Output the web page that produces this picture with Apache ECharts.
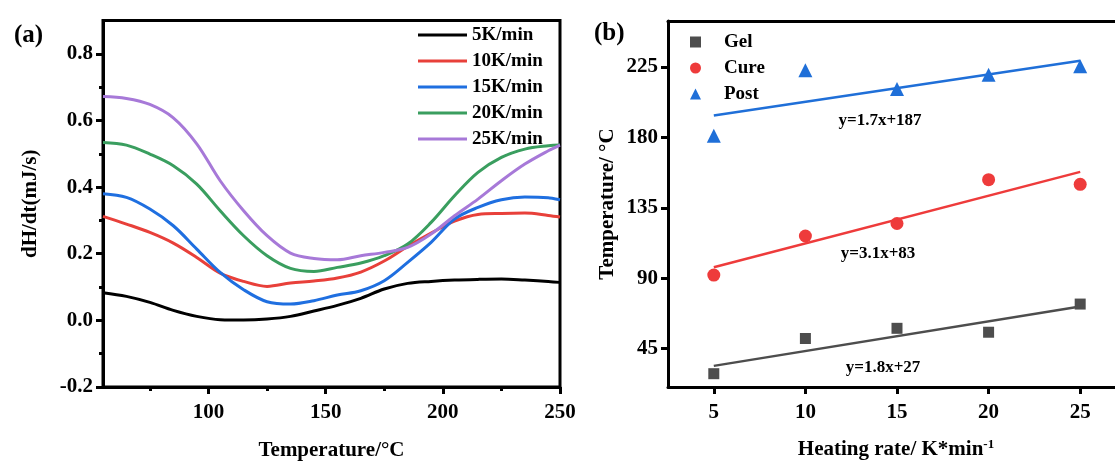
<!DOCTYPE html>
<html>
<head>
<meta charset="utf-8">
<title>DSC curves / heating rate</title>
<style>
  html, body { margin: 0; padding: 0; background: #fff; }
  #container { width: 1115px; height: 462px; }
</style>
</head>
<body>
<div id="container"></div>
<script src="https://cdn.jsdelivr.net/npm/echarts@6.0.0/dist/echarts.min.js"></script>
<script type="text/javascript">

    // (a) heat flow curves
    var temps = [55, 65, 75, 85, 95, 105, 115, 125, 135, 145, 155, 165, 175, 185, 195, 205, 215, 225, 235, 245, 250];
    var k5  = [0.083, 0.072, 0.054, 0.030, 0.012, 0.002, 0.001, 0.004, 0.012, 0.028, 0.045, 0.066, 0.094, 0.111, 0.117, 0.121, 0.123, 0.124, 0.121, 0.117, 0.114];
    var k10 = [0.312, 0.289, 0.264, 0.232, 0.189, 0.142, 0.117, 0.102, 0.112, 0.118, 0.127, 0.145, 0.178, 0.222, 0.262, 0.298, 0.318, 0.321, 0.322, 0.315, 0.310];
    var k15 = [0.380, 0.369, 0.334, 0.284, 0.214, 0.144, 0.092, 0.056, 0.049, 0.059, 0.076, 0.089, 0.119, 0.174, 0.234, 0.304, 0.339, 0.362, 0.370, 0.368, 0.362];
    var k20 = [0.534, 0.526, 0.499, 0.464, 0.409, 0.329, 0.254, 0.194, 0.156, 0.147, 0.159, 0.172, 0.194, 0.229, 0.294, 0.374, 0.444, 0.489, 0.514, 0.524, 0.526];
    var k25 = [0.672, 0.666, 0.648, 0.608, 0.530, 0.419, 0.329, 0.254, 0.202, 0.186, 0.182, 0.194, 0.204, 0.219, 0.259, 0.314, 0.364, 0.419, 0.469, 0.509, 0.526];
    var curveNames = ['5K/min', '10K/min', '15K/min', '20K/min', '25K/min'];
    var curveColors = ['#000000', '#e8403a', '#1f6fe0', '#3a9e5f', '#a779d8'];

    // (b) characteristic temperatures vs heating rate
    var rates = [5, 10, 15, 20, 25];
    var gel = [29, 51.5, 58, 55.5, 73.5];
    var cure = [92, 117, 125, 153, 150];
    var post = [181, 223, 211, 220, 225.5];
    // fitted lines, end values at rate 5 and 25
    var fitX = [5, 25];
    var gelFit = [34, 72];
    var cureFit = [97, 158];
    var postFit = [194, 229];
    var fitText = ['y=1.8x+27', 'y=3.1x+83', 'y=1.7x+187'];

    var xTicksA = [100, 150, 200, 250];
    var xMinorA = [75, 125, 175, 225];
    var yTicksA = [-0.2, 0, 0.2, 0.4, 0.6, 0.8];
    var yMinorA = [-0.1, 0.1, 0.3, 0.5, 0.7];
    var xTicksB = [5, 10, 15, 20, 25];
    var yTicksB = [45, 90, 135, 180, 225];

    var FONT = 'Liberation Serif';
    var labelStyle = { color: '#000', fontFamily: FONT, fontWeight: 'bold', fontSize: 21 };
    var nameStyle = { color: '#000', fontFamily: FONT, fontWeight: 'bold', fontSize: 21 };

    function pairs(xs, ys) {
        return xs.map(function (x, i) { return [x, ys[i]]; });
    }

    function mainAxis(grid, min, max, ticks, extra) {
        var ax = {
            gridIndex: grid, type: 'value', min: min, max: max,
            axisLine: { onZero: false, lineStyle: { color: '#000', width: 3 } },
            axisTick: { customValues: ticks, length: 7, lineStyle: { color: '#000', width: 3 } },
            axisLabel: Object.assign({ customValues: ticks }, labelStyle),
            splitLine: { show: false },
            nameLocation: 'middle',
            nameTextStyle: nameStyle
        };
        return Object.assign(ax, extra);
    }

    function minorAxis(grid, min, max, ticks, pos) {
        return {
            gridIndex: grid, type: 'value', min: min, max: max, position: pos,
            axisLine: { show: false, onZero: false },
            axisTick: { customValues: ticks, length: 4, lineStyle: { color: '#000', width: 3 } },
            axisLabel: { show: false },
            splitLine: { show: false }
        };
    }

    var series = [];
    [k5, k10, k15, k20, k25].forEach(function (vals, i) {
        series.push({
            name: curveNames[i], type: 'line', xAxisIndex: 0, yAxisIndex: 0,
            data: pairs(temps, vals), smooth: 0.35, symbol: 'none',
            lineStyle: { width: 3, color: curveColors[i] },
            itemStyle: { color: curveColors[i] }
        });
    });

    var pointSets = [
        { name: 'Gel', vals: gel, fit: gelFit, color: '#4d4d4d', symbol: 'rect', size: 11 },
        { name: 'Cure', vals: cure, fit: cureFit, color: '#ee3b3b', symbol: 'circle', size: 13 },
        { name: 'Post', vals: post, fit: postFit, color: '#1f6fd8', symbol: 'triangle', size: 14 }
    ];
    pointSets.forEach(function (p) {
        series.push({
            name: p.name + ' fit', type: 'line', xAxisIndex: 2, yAxisIndex: 2,
            data: pairs(fitX, p.fit), symbol: 'none',
            lineStyle: { width: 2.5, color: p.color }
        });
        series.push({
            name: p.name, type: 'scatter', xAxisIndex: 2, yAxisIndex: 2,
            data: pairs(rates, p.vals), symbol: p.symbol, symbolSize: p.size,
            itemStyle: { color: p.color, opacity: 1 }
        });
    });

    var myChart = echarts.init(document.getElementById('container'), null, { renderer: 'canvas' });

    var option = {
        animation: false,
        backgroundColor: '#fff',
        grid: [
            { left: 103, top: 20.5, width: 457, height: 366.5, outerBoundsMode: 'none', show: true, borderColor: '#000', borderWidth: 3 },
            // right panel runs past the picture edge, so no right border
            { left: 668, top: 21, width: 447, height: 366, outerBoundsMode: 'none' }
        ],
        xAxis: [
            mainAxis(0, 55, 250, xTicksA, { position: 'bottom', name: 'Temperature/°C', nameGap: 53, axisLabel: Object.assign({ customValues: xTicksA, margin: 15 }, labelStyle) }),
            minorAxis(0, 55, 250, xMinorA, 'bottom'),
            mainAxis(1, 2.5, 26.9, xTicksB, {
                position: 'bottom', nameGap: 51,
                axisLabel: Object.assign({ customValues: xTicksB, margin: 15 }, labelStyle),
                name: 'Heating rate/ K*min{sup|-1}',
                nameTextStyle: Object.assign({ padding: [0, 0, 0, 9], rich: { sup: { fontFamily: FONT, fontWeight: 'bold', fontSize: 13, verticalAlign: 'top', padding: [0, 0, 10, 0] } } }, nameStyle)
            }),
            {
                gridIndex: 1, type: 'value', min: 2.5, max: 26.9, position: 'top',
                axisLine: { onZero: false, lineStyle: { color: '#000', width: 3 } },
                axisTick: { show: false }, axisLabel: { show: false }, splitLine: { show: false }
            }
        ],
        yAxis: [
            mainAxis(0, -0.2, 0.9, yTicksA, { position: 'left', name: 'dH/dt(mJ/s)', nameGap: 62, axisLabel: Object.assign({ customValues: yTicksA, margin: 10, formatter: function (v) { return v.toFixed(1); } }, labelStyle) }),
            minorAxis(0, -0.2, 0.9, yMinorA, 'left'),
            mainAxis(1, 20.5, 254.4, yTicksB, { position: 'left', name: 'Temperature/ °C', nameGap: 50, axisLabel: Object.assign({ customValues: yTicksB, margin: 10 }, labelStyle) })
        ],
        legend: [
            {
                data: curveNames, orient: 'vertical', left: 418, top: 25, padding: 0,
                icon: 'rect', itemWidth: 49, itemHeight: 3, itemGap: 6,
                textStyle: { color: '#000', fontFamily: FONT, fontWeight: 'bold', fontSize: 19, lineHeight: 20 }
            },
            {
                data: ['Gel', 'Cure', 'Post'], orient: 'vertical', left: 690, top: 32, padding: 0,
                itemWidth: 11, itemHeight: 11, itemGap: 6,
                textStyle: { color: '#000', fontFamily: FONT, fontWeight: 'bold', fontSize: 19, lineHeight: 20, padding: [0, 0, 0, 18] }
            }
        ],
        graphic: [
            { type: 'text', left: 14, top: 23, style: { text: '(a)', font: 'bold 25px "Liberation Serif"', fill: '#000' } },
            { type: 'text', left: 594, top: 21, style: { text: '(b)', font: 'bold 25px "Liberation Serif"', fill: '#000' } },
            { type: 'text', x: 883, y: 368, style: { text: fitText[0], font: 'bold 17px "Liberation Serif"', fill: '#000', align: 'center', verticalAlign: 'middle' } },
            { type: 'text', x: 878, y: 254, style: { text: fitText[1], font: 'bold 17px "Liberation Serif"', fill: '#000', align: 'center', verticalAlign: 'middle' } },
            { type: 'text', x: 880, y: 121, style: { text: fitText[2], font: 'bold 17px "Liberation Serif"', fill: '#000', align: 'center', verticalAlign: 'middle' } }
        ],
        series: series
    };

    myChart.setOption(option);
    window.addEventListener('resize', myChart.resize);
</script>
</body>
</html>
